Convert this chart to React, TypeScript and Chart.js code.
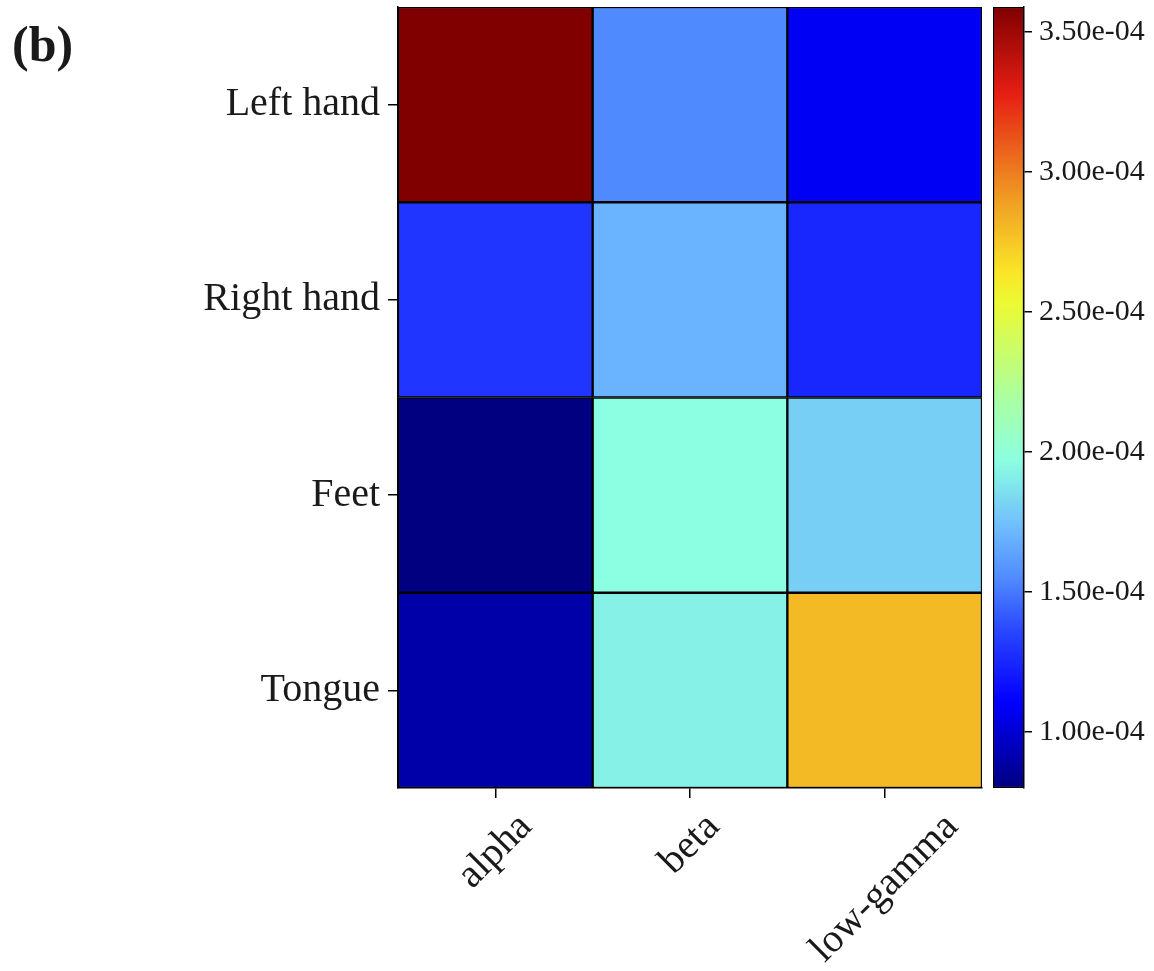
import React, { useEffect, useRef } from 'react';
import { Chart, registerables } from 'chart.js';

Chart.register(...registerables);

// ---- data ----
const ROWS = ['Left hand', 'Right hand', 'Feet', 'Tongue'];
const BANDS = ['alpha', 'beta', 'low-gamma'];
const LEFT_HAND = [3.59e-4, 1.55e-4, 1.08e-4];
const RIGHT_HAND = [1.3e-4, 1.7e-4, 1.25e-4];
const FEET = [0.8e-4, 1.97e-4, 1.8e-4];
const TONGUE = [0.9e-4, 1.92e-4, 2.8e-4];
const CBAR_TICKS = [1.0e-4, 1.5e-4, 2.0e-4, 2.5e-4, 3.0e-4, 3.5e-4];
const ROW_TICKS = [3.5, 2.5, 1.5, 0.5];

const ALL = [...LEFT_HAND, ...RIGHT_HAND, ...FEET, ...TONGUE];
const VMIN = Math.min(...ALL);
const VMAX = Math.max(...ALL);

// jet-like colormap (as rendered in the reference)
const STOPS: [number, number, number, number][] = [
  [0, 0, 0, 128],
  [0.11, 0, 0, 255],
  [0.125, 10, 10, 255],
  [0.2, 40, 70, 255],
  [0.27, 80, 140, 255],
  [0.33, 110, 185, 255],
  [0.42, 140, 255, 225],
  [0.5, 170, 255, 160],
  [0.62, 235, 250, 50],
  [0.66, 250, 230, 40],
  [0.75, 240, 160, 35],
  [0.89, 230, 30, 20],
  [1.0, 128, 0, 0],
];

function cmap(t: number): string {
  t = Math.max(0, Math.min(1, t));
  for (let i = 1; i < STOPS.length; i++) {
    const a = STOPS[i - 1];
    const b = STOPS[i];
    if (t <= b[0]) {
      const f = (t - a[0]) / (b[0] - a[0] || 1);
      const r = Math.round(a[1] + (b[1] - a[1]) * f);
      const g = Math.round(a[2] + (b[2] - a[2]) * f);
      const bl = Math.round(a[3] + (b[3] - a[3]) * f);
      return `rgb(${r},${g},${bl})`;
    }
  }
  const l = STOPS[STOPS.length - 1];
  return `rgb(${l[1]},${l[2]},${l[3]})`;
}
const colorFor = (v: number) => cmap((v - VMIN) / (VMAX - VMIN));

const SERIF = '"Liberation Serif", "Times New Roman", serif';
const TEXT = '#1a1a1a';

function fmtExp(v: number): string {
  const [m, e] = v.toExponential(2).split('e');
  const sign = e[0];
  const exp = e.slice(1).padStart(2, '0');
  return `${m}e${sign}${exp}`;
}

const xLabelPlugin = {
  id: 'xLabels',
  afterDraw(chart: any) {
    const xs = chart.scales.x;
    const ctx = chart.ctx;
    ctx.save();
    ctx.font = `40px ${SERIF}`;
    ctx.fillStyle = TEXT;
    ctx.textAlign = 'center';
    ctx.textBaseline = 'middle';
    const c = Math.SQRT1_2;
    const y0 = chart.chartArea.bottom + 20;
    BANDS.forEach((lab, i) => {
      const x = xs.getPixelForTick(i);
      const w = ctx.measureText(lab).width;
      const h = 36;
      const H = (w + h) * c;
      ctx.save();
      ctx.translate(x, y0 + H / 2);
      ctx.rotate(-Math.PI / 4);
      ctx.fillText(lab, 0, 0);
      ctx.restore();
    });
    ctx.restore();
  },
};

const noPad = (s: any) => {
  s.paddingTop = 0;
  s.paddingBottom = 0;
};

export default function App() {
  const mainRef = useRef<HTMLCanvasElement>(null);
  const cbRef = useRef<HTMLCanvasElement>(null);

  useEffect(() => {
    const rowsBottomUp = [
      { name: 'Tongue', vals: TONGUE },
      { name: 'Feet', vals: FEET },
      { name: 'Right hand', vals: RIGHT_HAND },
      { name: 'Left hand', vals: LEFT_HAND },
    ];
    const main = new Chart(mainRef.current!, {
      type: 'bar',
      data: {
        labels: BANDS,
        datasets: rowsBottomUp.map((r) => ({
          label: r.name,
          data: r.vals.map(() => 1),
          backgroundColor: r.vals.map(colorFor),
          borderColor: '#000',
          borderWidth: 1.5,
          borderSkipped: false,
          barPercentage: 1,
          categoryPercentage: 1,
          stack: 's',
        })),
      },
      options: {
        responsive: false,
        animation: false,
        events: [],
        layout: { padding: { top: 7, right: 8, left: 0, bottom: 0 } },
        plugins: { legend: { display: false }, tooltip: { enabled: false }, title: { display: false } },
        scales: {
          x: {
            stacked: true,
            grid: { display: true, drawOnChartArea: false, offset: false, tickLength: 10, color: '#000', lineWidth: 1.5 },
            border: { display: true, color: '#000', width: 1.5 },
            ticks: { display: false },
            afterFit: (s: any) => {
              s.height = 183;
              s.paddingLeft = 0;
              s.paddingRight = 0;
            },
          },
          y: {
            stacked: true,
            min: 0,
            max: 4,
            afterBuildTicks: (s: any) => { s.ticks = ROW_TICKS.map((v) => ({ value: v })); },
            ticks: {
              autoSkip: false,
              padding: 8,
              color: TEXT,
              font: { family: SERIF, size: 40 },
              callback: (v: any) => ROWS[3 - Math.floor(Number(v))],
            },
            grid: { display: true, drawOnChartArea: false, tickLength: 10, color: '#000', lineWidth: 1.5 },
            border: { display: true, color: '#000', width: 1.5 },
            afterFit: (s: any) => {
              s.width = 398;
              noPad(s);
            },
          },
        },
      },
      plugins: [xLabelPlugin],
    } as any);

    const cb = new Chart(cbRef.current!, {
      type: 'bar',
      data: {
        labels: ['cbar'],
        datasets: [
          {
            data: [[VMIN, VMAX]] as any,
            backgroundColor: (c: any) => {
              const area = c.chart.chartArea;
              if (!area) return 'transparent';
              const g = c.chart.ctx.createLinearGradient(0, area.bottom, 0, area.top);
              for (let i = 0; i <= 100; i++) g.addColorStop(i / 100, cmap(i / 100));
              return g;
            },
            borderColor: '#000',
            borderWidth: 1.5,
            borderSkipped: false,
            barPercentage: 1,
            categoryPercentage: 1,
          },
        ],
      },
      options: {
        responsive: false,
        animation: false,
        events: [],
        layout: { padding: { top: 7, right: 0, left: 3, bottom: 183 } },
        plugins: { legend: { display: false }, tooltip: { enabled: false } },
        scales: {
          x: { display: false },
          y: {
            position: 'right',
            min: VMIN,
            max: VMAX,
            afterBuildTicks: (s: any) => { s.ticks = CBAR_TICKS.map((v) => ({ value: v })); },
            ticks: {
              autoSkip: false,
              padding: 7,
              color: TEXT,
              font: { family: SERIF, size: 30 },
              callback: (v: any) => fmtExp(Number(v)),
            },
            grid: { display: true, drawOnChartArea: false, tickLength: 8, color: '#000', lineWidth: 1.5 },
            border: { display: true, color: '#000', width: 1.5 },
            afterFit: (s: any) => {
              s.width = 130;
              noPad(s);
            },
          },
        },
      },
    } as any);

    return () => {
      main.destroy();
      cb.destroy();
    };
  }, []);

  return (
    <div style={{ position: 'absolute', left: 0, top: 0, width: 1154, height: 971, background: '#fff' }}>
      <div
        style={{
          position: 'absolute',
          left: 12,
          top: 16,
          fontFamily: SERIF,
          fontWeight: 'bold',
          fontSize: 50,
          lineHeight: '56px',
          color: TEXT,
        }}
      >
        (b)
      </div>
      <canvas
        ref={mainRef}
        width={990}
        height={971}
        style={{ position: 'absolute', left: 0, top: 0, width: 990, height: 971 }}
      />
      <canvas
        ref={cbRef}
        width={164}
        height={971}
        style={{ position: 'absolute', left: 990, top: 0, width: 164, height: 971 }}
      />
    </div>
  );
}
